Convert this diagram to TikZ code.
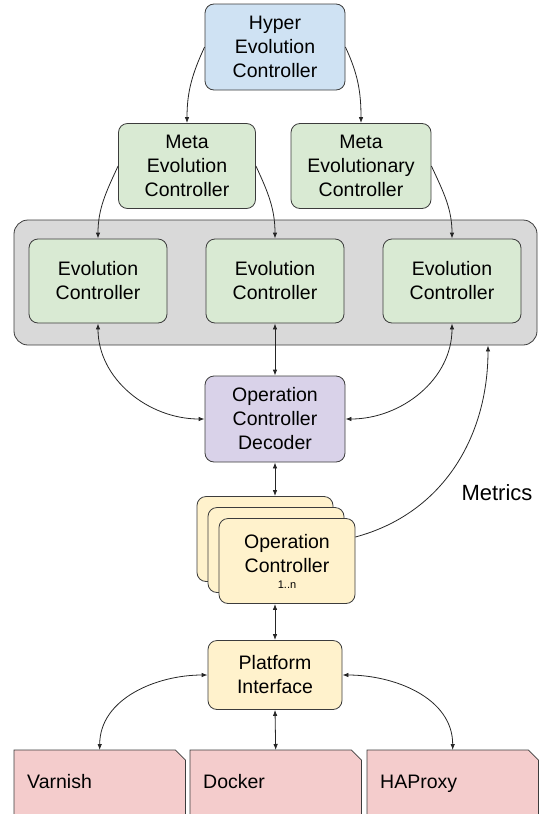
\documentclass[tikz,border=0pt]{standalone}
\usepackage{fontspec}
\setmainfont{Liberation Sans}
\usetikzlibrary{arrows.meta,positioning,backgrounds}

\definecolor{hyperblue}{HTML}{CFE2F3}
\definecolor{evogreen}{HTML}{D9EAD3}
\definecolor{groupgray}{HTML}{D9D9D9}
\definecolor{decpurple}{HTML}{D9D2E9}
\definecolor{opyellow}{HTML}{FFF2CC}
\definecolor{platpink}{HTML}{F4CCCC}
\definecolor{edgegray}{HTML}{3C3C3C}

\newcommand\boxfont{\fontsize{19.5}{24}\selectfont}

\tikzset{
  ctrl/.style={draw=edgegray, line width=0.8pt, rounded corners=9pt, align=center,
    minimum width=138pt, minimum height=85pt, inner sep=0pt, font=\boxfont},
  arr/.style={-{Latex[length=6pt,width=4.5pt]}, line width=0.8pt, draw=black!85},
  biarr/.style={{Latex[length=6pt,width=4.5pt]}-{Latex[length=6pt,width=4.5pt]}, line width=0.8pt, draw=black!85},
  docbox/.style={anchor=north west, minimum width=171pt, minimum height=66pt,
    text width=145pt, text height=14pt, text depth=4pt, inner xsep=13pt, inner ysep=0pt,
    align=left, font=\boxfont},
  docshape/.style={fill=platpink, draw=edgegray, line width=0.8pt},
}

\begin{document}
\begin{tikzpicture}[x=1pt,y=-1pt]
  \useasboundingbox (0,0) rectangle (539,814);

  % evolution layers
  \node[ctrl, fill=hyperblue, minimum width=140pt, minimum height=86pt] (hyper) at (275,47) {Hyper\\Evolution\\Controller};
  \node[ctrl, fill=evogreen, minimum width=137pt] (meta1) at (187,166) {Meta\\Evolution\\Controller};
  \node[ctrl, fill=evogreen, minimum width=140pt] (meta2) at (361,166) {Meta\\Evolutionary\\Controller};

  \node[draw=edgegray, fill=groupgray, line width=0.8pt, rounded corners=14pt,
    minimum width=523pt, minimum height=125pt] (group) at (275.5,282.5) {};
  \node[ctrl, fill=evogreen, minimum height=84pt] (ec1) at (98,281) {Evolution\\Controller};
  \node[ctrl, fill=evogreen, minimum height=84pt] (ec2) at (275,281) {Evolution\\Controller};
  \node[ctrl, fill=evogreen, minimum height=84pt] (ec3) at (452,281) {Evolution\\Controller};

  \node[ctrl, fill=decpurple, minimum width=140pt, minimum height=86pt] (decoder) at (275,419) {Operation\\Controller\\Decoder};

  % operation controllers (stack)
  \node[ctrl, fill=opyellow, minimum width=136pt] (opback1) at (265,539) {};
  \node[ctrl, fill=opyellow, minimum width=136pt] (opback2) at (276,550) {};
  \node[ctrl, fill=opyellow, minimum width=136pt] (opctrl) at (287,561) {Operation\\Controller\\[-8pt]{\fontsize{11}{13}\selectfont 1..n}};

  \node[font=\fontsize{22}{26}\selectfont] (metrics) at (497,493) {Metrics};

  \node[ctrl, fill=opyellow, minimum width=134pt, minimum height=69pt] (platform) at (275,675) {Platform\\Interface};

  % platforms
  \node[docbox] (varnish) at (14,750) {Varnish};
  \node[docbox] (docker) at (190,750) {Docker};
  \node[docbox] (haproxy) at (367,750) {HAProxy};
  \begin{scope}[on background layer]
    \foreach \d in {varnish,docker,haproxy}
      \filldraw[docshape] ([yshift=-20pt]\d.south west) -- (\d.north west) -- ([xshift=-10pt]\d.north east)
        -- ([yshift=-10pt]\d.north east) -- ([yshift=-20pt]\d.south east);
  \end{scope}

  % connectors
  \draw[arr] (hyper.west) to[out=245,in=90] (meta1.north);
  \draw[arr] (hyper.east) to[out=-65,in=90] (meta2.north);
  \draw[arr] (meta1.west) to[out=245,in=90] (ec1.north);
  \draw[arr] (meta1.east) to[out=-65,in=90] (ec2.north);
  \draw[arr] (meta2.east) to[out=-65,in=90] (ec3.north);

  \draw[biarr] (ec1.south) to[out=-90,in=180] (decoder.west);
  \draw[biarr] (ec2.south) -- (decoder.north);
  \draw[biarr] (ec3.south) to[out=-90,in=0] (decoder.east);

  \draw[biarr] (decoder.south) -- (decoder.south |- opback1.north);
  \draw[biarr] (platform.north |- opctrl.south) -- (platform.north);
  \draw[arr] ([yshift=24pt]opctrl.east) to[out=15,in=-90] ([xshift=212.5pt]group.south);

  \draw[biarr] (platform.west) to[out=180,in=90] (varnish.north);
  \draw[biarr] (platform.south) -- (docker.north);
  \draw[biarr] (platform.east) to[out=0,in=90] (haproxy.north);
\end{tikzpicture}
\end{document}
